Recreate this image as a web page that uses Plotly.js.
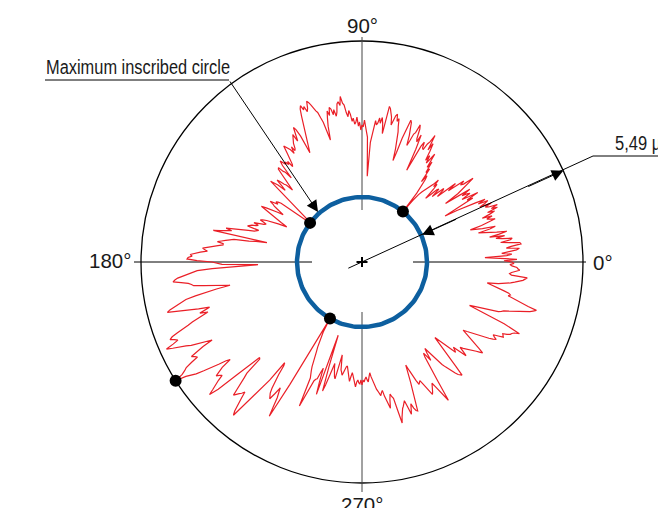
<!DOCTYPE html>
<html>
<head>
<meta charset="utf-8">
<script src="https://cdn.plot.ly/plotly-3.0.1.min.js"></script>
<style>html,body{margin:0;padding:0;background:#fff;}#chart{width:658px;height:508px;}</style>
</head>
<body>
<div id="chart"></div>
<script>
// Roundness profile: radius (chart units) sampled every 0.5 degree, from 0 to 360 degrees
const profileStep = 0.5;
const profileR = [
150,142,155,138,123,145,150,140,146,155,158,145,150,160,159,148,140,150,152,142,
136,145,130,140,148,138,132,126,120,132,138,125,118,113,125,135,140,135,132,138,
128,136,142,135,146,140,147,138,135,142,130,136,140,130,138,128,118,108,95,115,
128,122,135,125,118,128,125,120,130,115,102,118,126,132,139,128,125,130,118,112,
122,110,100,108,110,102,96,106,104,96,90,102,108,104,112,105,100,97,95,92,
88,80,65,88,97,104,108,100,115,110,122,115,130,122,118,126,120,130,138,130,
146,138,135,128,129,135,130,115,102,125,140,132,135,145,149,140,138,130,125,135,
142,148,150,140,130,115,106,118,128,135,140,148,145,152,150,145,140,148,152,156,
158,145,130,140,146,140,145,140,138,142,135,128,120,86,110,125,130,136,142,135,
137,132,140,136,145,140,138,144,141,148,152,146,150,158,160,167,158,162,160,152,
148,155,150,156,158,150,155,148,140,126,138,145,150,156,158,162,165,168,170,163,
160,166,163,168,165,158,150,145,140,132,128,121,140,148,151,142,137,145,142,138,
137,132,130,135,128,133,135,138,140,132,125,120,118,125,122,126,124,128,130,125,
110,118,120,126,125,118,112,106,100,108,110,115,118,110,105,114,118,122,110,100,
90,85,80,72,68,66,65,90,100,103,105,102,108,110,106,104,100,96,92,98,
105,110,115,110,108,102,98,94,90,86,83,92,100,104,108,110,106,103,105,110,
115,110,112,116,118,120,108,110,112,118,125,132,140,134,138,145,152,97,108,115,
130,135,138,142,146,140,140,145,150,155,160,158,155,162,168,172,170,174,175,165,
150,145,140,104,130,150,165,170,175,180,185,188,190,182,175,172,170,160,150,140,
134,148,160,170,180,184,188,194,198,201,190,180,170,159,165,170,162,168,175,180,
185,192,198,204,207,203,200,206,214,208,200,195,190,182,175,169,180,188,195,192,
190,198,205,208,212,221,210,205,200,192,185,176,168,164,175,180,185,182,180,186,
190,196,202,192,170,155,140,141,160,165,170,178,185,182,180,178,175,182,190,196,
200,185,170,160,150,127,130,140,150,155,160,162,165,158,150,155,160,170,180,142,
100,65,80,86,90,96,100,106,110,116,120,124,127,157,145,140,128,126,125,118,
113,128,140,100,77,110,135,128,120,112,105,110,115,118,120,105,95,102,110,112,
115,112,108,106,105,110,112,116,120,115,111,114,118,122,125,120,118,121,122,118,
123,118,120,117,115,118,120,115,111,115,118,122,125,128,130,133,135,132,130,136,
140,145,149,140,135,138,140,152,166,160,155,152,150,148,145,152,160,155,150,155,
158,159,145,138,130,120,112,118,125,130,135,133,132,136,140,145,150,148,145,142,
140,145,150,158,163,140,120,114,110,115,120,112,107,112,118,124,130,134,138,142,
145,148,150,151,140,130,120,112,105,110,115,122,130,128,125,132,140,135,130,133,
135,138,140,143,145,148,151,146,140,135,130,126,122,126,130,135,140,144,148,152,
155,152,150,155,160,159,158,162,165,166,168,173,165,155,140,128,116,122,130,138,
145,148,150,155,160,165,170,175,178,181,172,165,160,155,150,152,150,145,140,134,
130,127,138,145,150,154,158,162,164,166,150,148,150,155,158,156,155,150,148,152,
150
];

// Reference circles and contact points
const inscribedRadius = 65;
const outerRadius = 221;
const contactTheta = [51, 143, 240.5];
const maxPointTheta = [212.5];
const axisLabels = ['0°', '90°', '180°', '270°'];
const circleLabel = 'Maximum inscribed circle';
const dimLabel = '5,49 µm';

const profileTheta = profileR.map((_, i) => i * profileStep);
const rad = d => d * Math.PI / 180;
const px = (t, r) => r * Math.cos(rad(t));
const py = (t, r) => r * Math.sin(rad(t));

const profX = profileTheta.map((t, i) => px(t, profileR[i]));
const profY = profileTheta.map((t, i) => py(t, profileR[i]));

const circT = [];
for (let a = 0; a <= 360; a += 2) circT.push(a);

const dotT = contactTheta.concat(maxPointTheta);
const dotR = contactTheta.map(() => inscribedRadius).concat(maxPointTheta.map(() => outerRadius));

const traces = [
  {x: profX, y: profY, mode: 'lines', line: {color: '#ea1f27', width: 1.2}, hoverinfo: 'skip'},
  {x: circT.map(t => px(t, inscribedRadius)), y: circT.map(t => py(t, inscribedRadius)), mode: 'lines',
   line: {color: '#0d5f9f', width: 4.5}, hoverinfo: 'skip'},
  {x: dotT.map((t, i) => px(t, dotR[i])), y: dotT.map((t, i) => py(t, dotR[i])), mode: 'markers',
   marker: {color: '#000', size: 12}, hoverinfo: 'skip'}
];

const lineStyle = {color: '#000', width: 1};
const dimAngle = 24.4;
const shapes = [
  {type: 'circle', xref: 'x', yref: 'y', x0: -outerRadius, x1: outerRadius, y0: -outerRadius, y1: outerRadius,
   line: {color: '#000', width: 1.3}, layer: 'below'},
  {type: 'line', x0: 51, x1: 224, y0: 0, y1: 0, line: lineStyle, layer: 'below'},
  {type: 'line', x0: -50, x1: -228, y0: 0, y1: 0, line: lineStyle, layer: 'below'},
  {type: 'line', x0: 0, x1: 0, y0: 52, y1: 225, line: {color: '#444', width: 1}, layer: 'below'},
  {type: 'line', x0: 0, x1: 0, y0: -50, y1: -230, line: {color: '#444', width: 1}, layer: 'below'},
  {type: 'line', x0: -5.5, x1: 5.5, y0: 0, y1: 0, line: {color: '#000', width: 2}},
  {type: 'line', x0: 0, x1: 0, y0: -5, y1: 5, line: {color: '#000', width: 2}},
  {type: 'line', x0: px(dimAngle, -15), y0: py(dimAngle, -15), x1: 231, y1: 106, line: lineStyle},
  {type: 'line', x0: 231, y0: 106, x1: 300, y1: 106, line: lineStyle},
  {type: 'line', x0: -317, y0: 182, x1: -133, y1: 182, line: lineStyle}
];

const lblFont = {family: "'Liberation Sans', Arial, sans-serif", size: 20.5, color: '#1a1a1a'};
const narrowFont = {family: "'Liberation Sans Narrow', 'Liberation Sans', Arial, sans-serif", size: 20, color: '#1a1a1a'};
const arr = {showarrow: true, arrowhead: 2, arrowsize: 2.3, arrowwidth: 1, arrowcolor: '#000', axref: 'x', ayref: 'y', text: '', standoff: 0};

const annotations = [
  {x: 229, y: 0, text: axisLabels[0], showarrow: false, xanchor: 'left', yanchor: 'middle', font: lblFont},
  {x: 0, y: 237, text: axisLabels[1], showarrow: false, xanchor: 'center', yanchor: 'middle', font: lblFont},
  {x: -229, y: 2, text: axisLabels[2], showarrow: false, xanchor: 'right', yanchor: 'middle', font: lblFont},
  {x: 0, y: -242, text: axisLabels[3], showarrow: false, xanchor: 'center', yanchor: 'middle', font: lblFont},
  {x: -318, y: 195, text: circleLabel, showarrow: false, xanchor: 'left', yanchor: 'middle', font: narrowFont},
  {x: 251, y: 119, text: dimLabel, showarrow: false, xanchor: 'left', yanchor: 'middle', font: narrowFont},
  Object.assign({}, arr, {x: -44, y: 50, ax: -133, ay: 182}),
  Object.assign({}, arr, {x: px(dimAngle, outerRadius), y: py(dimAngle, outerRadius), ax: px(dimAngle, outerRadius - 40), ay: py(dimAngle, outerRadius - 40)}),
  Object.assign({}, arr, {x: px(dimAngle, inscribedRadius + 1), y: py(dimAngle, inscribedRadius + 1), ax: px(dimAngle, inscribedRadius + 40), ay: py(dimAngle, inscribedRadius + 40)})
];

const layout = {
  width: 658, height: 508,
  margin: {l: 0, r: 0, t: 0, b: 0},
  paper_bgcolor: '#fff', plot_bgcolor: '#fff',
  showlegend: false,
  xaxis: {range: [-362, 296], visible: false, fixedrange: true},
  yaxis: {range: [-246, 262], visible: false, fixedrange: true},
  shapes: shapes,
  annotations: annotations
};

Plotly.newPlot('chart', traces, layout, {staticPlot: true, displayModeBar: false}).then(() => {
  // condensed lettering as in the reference
  const widths = {};
  widths[circleLabel] = 184;
  widths[dimLabel] = 60;
  document.querySelectorAll('text.annotation-text').forEach(el => {
    const w = widths[el.textContent];
    if (!w) return;
    const bb = el.getBBox();
    if (bb.width <= w) return;
    el.setAttribute('text-anchor', 'start');
    el.setAttribute('x', bb.x);
    el.setAttribute('textLength', w);
    el.setAttribute('lengthAdjust', 'spacingAndGlyphs');
  });
});
</script>
</body>
</html>
